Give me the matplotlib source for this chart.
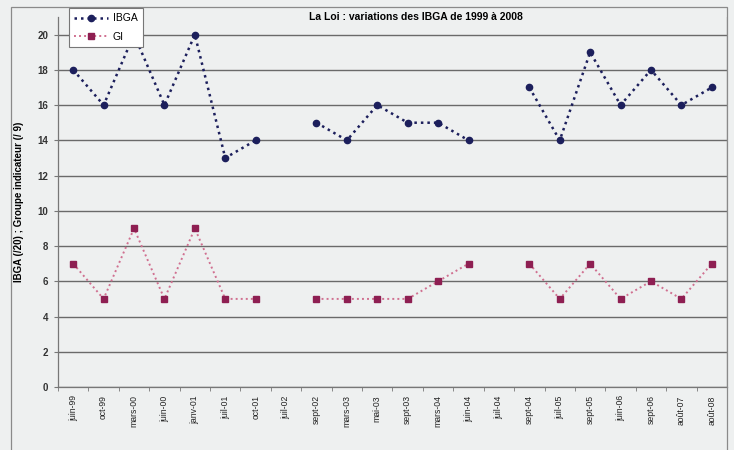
import numpy as np
import matplotlib
matplotlib.use('Agg')
import matplotlib.pyplot as plt
from matplotlib.patches import Rectangle

# data
dates = ['juin-99', 'oct-99', 'mars-00', 'juin-00', 'janv-01', 'juil-01',
         'oct-01', 'juil-02', 'sept-02', 'mars-03', 'mai-03', 'sept-03',
         'mars-04', 'juin-04', 'juil-04', 'sept-04', 'juil-05', 'sept-05',
         'juin-06', 'sept-06', 'août-07', 'août-08']
ibga = [18, 16, 20, 16, 20, 13, 14, np.nan, 15, 14, 16, 15, 15, 14, np.nan,
        17, 14, 19, 16, 18, 16, 17]
gi = [7, 5, 9, 5, 9, 5, 5, np.nan, 5, 5, 5, 5, 6, 7, np.nan,
      7, 5, 7, 5, 6, 5, 7]
yticks = list(range(0, 21, 2))

bg = '#eef0f0'
plt.rcParams['font.family'] = ['Liberation Sans', 'DejaVu Sans']

fig = plt.figure(figsize=(7.34, 4.5), dpi=100, facecolor=bg)
# chart frame
fig.patches.append(Rectangle((11 / 734, -0.01), 716 / 734, 1 - 7 / 450 + 0.01,
                             transform=fig.transFigure, fill=False,
                             edgecolor='#8a8a8a', lw=0.9))

ax = fig.add_axes([58 / 734, 1 - 387 / 450, 669 / 734, 370 / 450])
ax.set_facecolor(bg)
x = np.arange(len(dates))

ax.plot(x, ibga, ls=(0, (1, 1.6)), lw=1.8, color='#1c1f5c', marker='o',
        ms=4.5, label='IBGA')
ax.plot(x, gi, ls=(0, (1, 1.6)), lw=1.4, color='#d07090', marker='s',
        ms=4.2, mfc='#8e1f52', mec='#8e1f52', label='GI')

ax.set_xlim(-0.5, len(dates) - 0.5)
ax.set_ylim(0, 21)
ax.set_yticks(yticks)
ax.set_yticklabels([str(v) for v in yticks], fontsize=7, fontweight='bold',
                   color='#333333')
ax.set_xticks(x)
ax.set_xticklabels(dates, rotation=90, fontsize=6.2, color='#222222')
ax.set_xticks(np.arange(-0.5, len(dates), 1), minor=True)
ax.tick_params(axis='x', which='major', length=0, pad=6)
ax.tick_params(axis='x', which='minor', length=3, color='#777777')
ax.tick_params(axis='y', length=3, color='#777777', pad=4)
ax.yaxis.grid(True, color='#6a6a6a', lw=1.0)
ax.set_axisbelow(True)
for s in ['top', 'right']:
    ax.spines[s].set_visible(False)
for s in ['left', 'bottom']:
    ax.spines[s].set_color('#777777')
    ax.spines[s].set_linewidth(0.9)
ax.axvline(len(dates) - 0.5, color='#8a8a8a', lw=0.9)

ax.set_ylabel('IBGA (/20) ; Groupe indicateur (/ 9)', fontsize=7,
              fontweight='bold', labelpad=10)
fig.text(416 / 734, 1 - 17 / 450, 'La Loi : variations des IBGA de 1999 à 2008',
         ha='center', va='center', fontsize=7.5, fontweight='bold')

leg = fig.legend(loc='upper left', bbox_to_anchor=(64 / 734, 1 - 3 / 450),
                 fontsize=7.5, frameon=True, fancybox=False,
                 edgecolor='#777777', facecolor='white', framealpha=1,
                 handlelength=3.2, borderpad=0.5, labelspacing=0.8,
                 handletextpad=0.5)
leg.get_frame().set_linewidth(0.8)
leg.set_zorder(10)

fig.savefig('out.png', dpi=100, facecolor=bg)
